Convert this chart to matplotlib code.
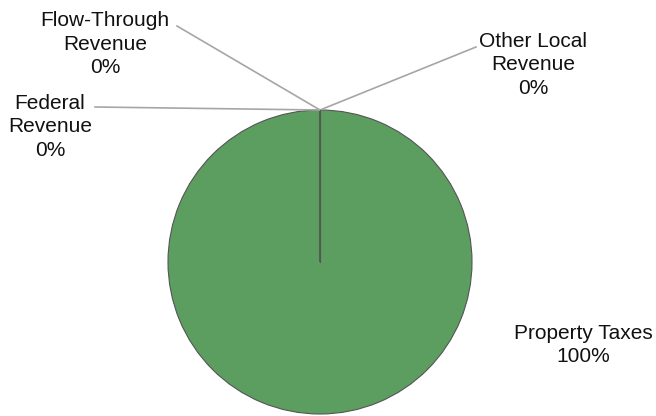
import numpy as np
import matplotlib.pyplot as plt

plt.rcParams['font.family'] = ['Liberation Sans', 'DejaVu Sans']

categories = ['Property Taxes', 'Federal Revenue', 'Flow-Through Revenue', 'Other Local Revenue']
values = [100, 0, 0, 0]
label_texts = ['Property Taxes\n100%', 'Federal\nRevenue\n0%', 'Flow-Through\nRevenue\n0%', 'Other Local\nRevenue\n0%']

W, H = 656, 416
fig = plt.figure(figsize=(W / 100, H / 100), dpi=100)
ax = fig.add_axes([0, 0, 1, 1])

cx, cy, r = 320, H - 262, 152
wedges, _ = ax.pie(values, colors=['#5c9e5f', '#4f81bd', '#c0504d', '#9bbb59'],
                   startangle=90, counterclock=False, radius=r, center=(cx, cy),
                   wedgeprops=dict(edgecolor='#555555', linewidth=0.8))
ax.set_xlim(0, W)
ax.set_ylim(0, H)
ax.set_aspect('equal')
ax.axis('off')

# radial edge of the full wedge
ax.plot([cx, cx], [cy, cy + r], color='#555555', lw=0.8, zorder=3)

# label layout (pixel coords from top): text centre, leader end
layout = {
    'Property Taxes': dict(text=(583, 345), end=None),
    'Federal Revenue': dict(text=(50, 127), end=(95, 107)),
    'Flow-Through Revenue': dict(text=(105, 44), end=(177, 26)),
    'Other Local Revenue': dict(text=(533, 65), end=(476, 47)),
}

for w, cat, lab in zip(wedges, categories, label_texts):
    lay = layout[cat]
    tx, ty = lay['text']
    ax.text(tx, H - ty, lab, ha='center', va='center', fontsize=15,
            color='#111111', linespacing=1.3)
    if lay['end'] is not None:
        ang = np.deg2rad((w.theta1 + w.theta2) / 2)
        ax_, ay_ = cx + r * np.cos(ang), cy + r * np.sin(ang)
        ex, ey = lay['end']
        ax.plot([ax_, ex], [ay_, H - ey], color='#a6a6a6', lw=1.2, zorder=1)

fig.savefig('out.png', dpi=100)
